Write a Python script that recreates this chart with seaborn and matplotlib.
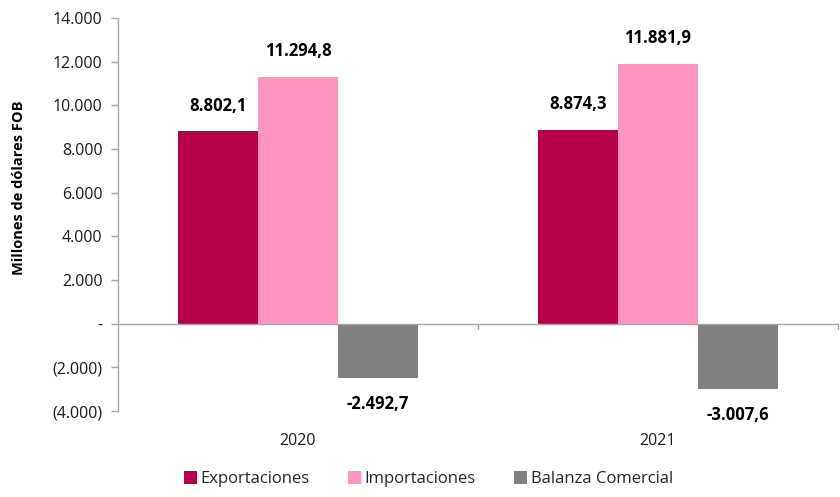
import matplotlib
matplotlib.use("Agg")
import matplotlib.pyplot as plt
import seaborn as sns
import pandas as pd
from matplotlib.patches import Patch
from matplotlib.ticker import FuncFormatter

years = ["2020", "2021"]
series = ["Exportaciones", "Importaciones", "Balanza Comercial"]
exportaciones = [8802.1, 8874.3]
importaciones = [11294.8, 11881.9]
balanza = [-2492.7, -3007.6]
colors = ["#B8004B", "#FF94C2", "#808080"]

rows = []
for name, vals in zip(series, [exportaciones, importaciones, balanza]):
    for y, v in zip(years, vals):
        rows.append({"Año": y, "Serie": name, "Valor": v})
df = pd.DataFrame(rows)

sns.set_style("white")
plt.rcParams["font.family"] = ["Open Sans", "DejaVu Sans"]

fig = plt.figure(figsize=(8.4, 4.97), dpi=100)
ax = fig.add_axes([0.1405, 0.173, 0.857, 0.791])

sns.barplot(data=df, x="Año", y="Valor", hue="Serie", hue_order=series,
            palette=colors, width=0.665, gap=0, saturation=1, ax=ax,
            legend=False, errorbar=None, linewidth=0, edgecolor="none")

def fmt_num(v, dec=1):
    s = f"{abs(v):,.{dec}f}".replace(",", "X").replace(".", ",").replace("X", ".")
    return ("-" + s) if v < 0 else s

for cont in ax.containers:
    ax.bar_label(cont, labels=[fmt_num(b.get_height()) for b in cont],
                 padding=12, fontsize=12, fontweight="bold", color="black")

def yfmt(v, pos):
    if abs(v) < 1e-9:
        return "-"
    s = f"{abs(v):,.0f}".replace(",", ".")
    return f"({s})" if v < 0 else s

ax.set_ylim(-4000, 14000)
ax.set_yticks(range(-4000, 14001, 2000))
ax.yaxis.set_major_formatter(FuncFormatter(yfmt))
ax.set_xlim(-0.5, 1.5)

for s in ["top", "right", "bottom"]:
    ax.spines[s].set_visible(False)
ax.spines["left"].set_color("#A6A6A6")
ax.spines["left"].set_linewidth(1)
ax.axhline(0, color="#A6A6A6", lw=1)
ax.plot([0.5, 0.5], [0, -250], color="#A6A6A6", lw=1)
ax.plot([1.5, 1.5], [0, -250], color="#A6A6A6", lw=1, clip_on=False)

ax.tick_params(axis="y", which="major", left=True, length=5, width=1,
               color="#A6A6A6", labelsize=11.5, labelcolor="#1a1a1a", pad=6)
ax.tick_params(axis="x", length=0, labelsize=11.5, labelcolor="#1a1a1a", pad=16)

ax.set_xlabel("")
ax.set_ylabel("Millones de dólares FOB", fontsize=10.5, fontweight="bold", color="black")
ax.yaxis.set_label_coords(-0.128, 0.567)

handles = [Patch(facecolor=c, edgecolor="none") for c in colors]
fig.legend(handles, series, loc="lower center", bbox_to_anchor=(0.51, -0.01),
           ncol=3, frameon=False, fontsize=12, handlelength=0.8, handleheight=0.8,
           handletextpad=0.2, columnspacing=2.3)

fig.savefig("out.png", dpi=100)
